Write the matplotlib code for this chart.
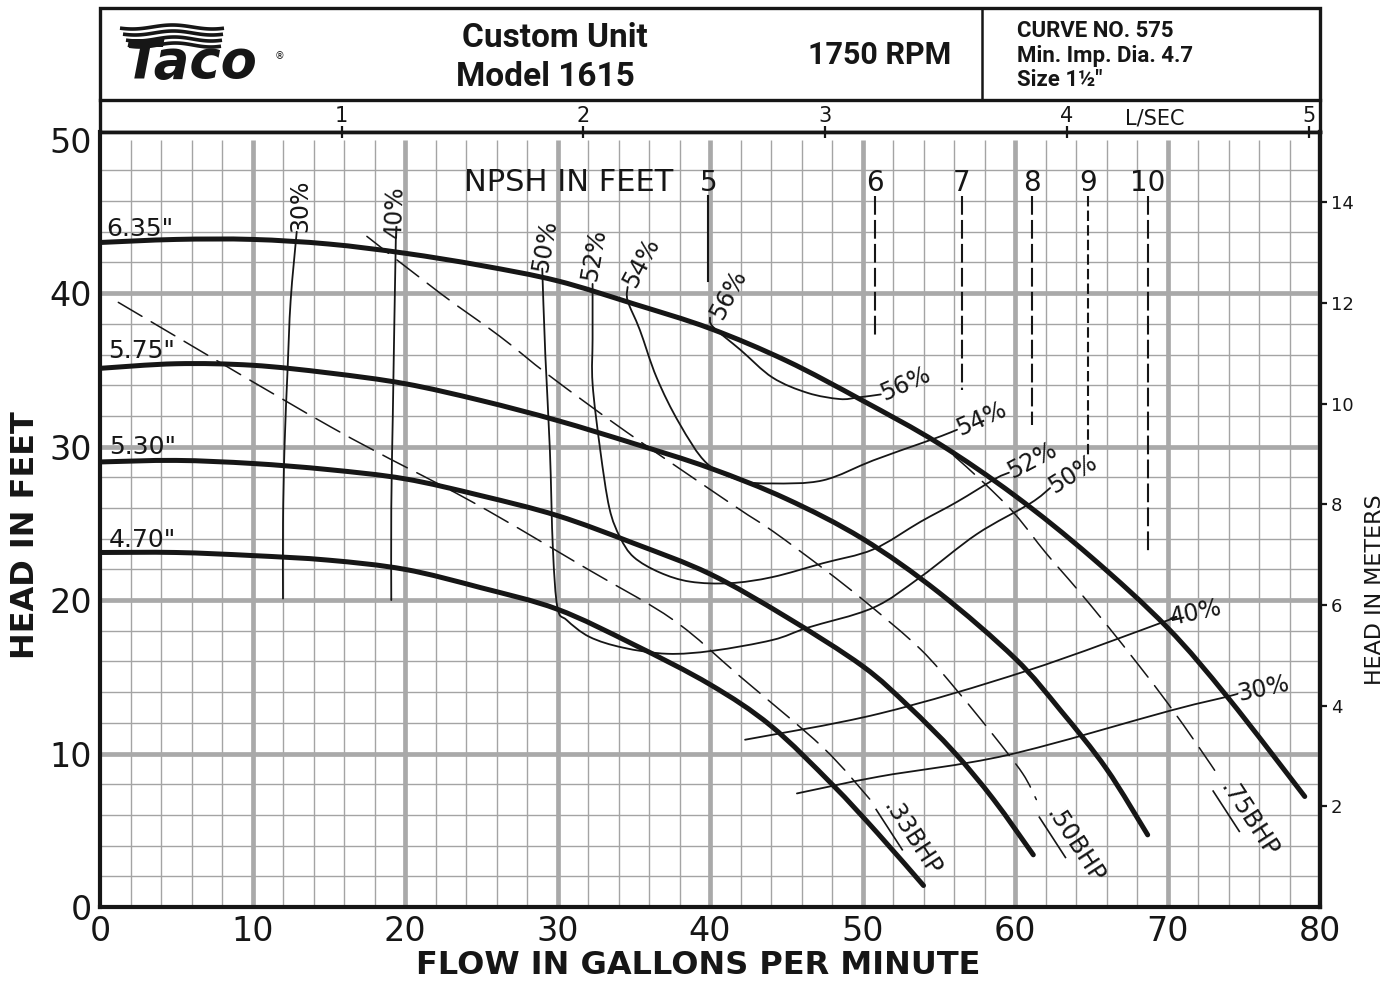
import numpy as np
import matplotlib
matplotlib.use('Agg')
import matplotlib.pyplot as plt
from matplotlib.patches import Rectangle, PathPatch
from matplotlib.path import Path

plt.rcParams['font.family'] = ['DejaVu Sans']
INK = '#161616'

# ---------------- data ----------------
imp_labels = ['6.35"', '5.75"', '5.30"', '4.70"']
q_635 = [0, 5, 10, 15, 20, 25, 30, 35, 40, 45, 50, 55, 60, 65, 70, 74, 79]
h_635 = [43.3, 43.5, 43.5, 43.2, 42.6, 41.8, 40.8, 39.3, 37.7, 35.6, 33.0, 30.2, 26.8, 22.8, 18.2, 13.6, 7.2]
q_575 = [0, 5, 10, 15, 20, 25, 30, 35, 40, 45, 50, 55, 60, 63, 66, 68.7]
h_575 = [35.1, 35.4, 35.3, 34.8, 34.1, 33.0, 31.7, 30.2, 28.6, 26.6, 24.0, 20.5, 16.2, 12.8, 9.0, 4.7]
q_530 = [0, 5, 10, 15, 20, 25, 30, 35, 40, 45, 50, 53, 56, 58.6, 61.2]
h_530 = [29.0, 29.1, 28.9, 28.5, 27.9, 26.8, 25.5, 23.7, 21.7, 18.9, 15.7, 13.1, 10.1, 7.0, 3.4]
q_470 = [0, 5, 10, 15, 20, 25, 30, 35, 40, 44, 48, 51, 54]
h_470 = [23.1, 23.1, 22.9, 22.6, 22.0, 20.8, 19.4, 17.1, 14.5, 11.8, 8.0, 4.8, 1.4]
imp_label_q = [0.4, 0.5, 0.6, 0.6]
imp_label_h = [44.2, 36.2, 30.0, 23.9]

# efficiency curves
e30l_q = [12.9, 12.5, 12.3, 12.1, 12.0, 12.0]
e30l_h = [44.0, 39.5, 35.0, 30.0, 25.0, 20.1]
e40l_q = [19.4, 19.3, 19.2, 19.1, 19.1]
e40l_h = [43.6, 38.0, 32.0, 26.0, 20.0]
e50_q = [29.0, 29.2, 29.5, 29.7, 30.0, 30.6, 32.1, 34.3, 37.2, 40.2, 44.1, 46.4, 50.7, 53.8, 57.5, 61.0, 62.3]
e50_h = [41.6, 36.0, 29.8, 23.3, 19.5, 18.7, 17.6, 16.9, 16.5, 16.7, 17.4, 18.2, 19.5, 21.5, 24.3, 26.3, 27.3]
e52_q = [32.3, 32.3, 32.3, 32.8, 33.4, 34.1, 35.0, 36.7, 38.7, 41.3, 44.1, 47.4, 50.7, 53.8, 56.2, 58.7, 59.6]
e52_h = [40.6, 37.0, 34.1, 29.8, 26.0, 24.1, 22.8, 21.8, 21.2, 21.1, 21.5, 22.4, 23.3, 25.1, 26.4, 27.9, 28.3]
e54_q = [34.6, 34.6, 35.4, 36.5, 38.0, 39.8, 42.0, 44.1, 47.4, 50.7, 53.8, 55.2, 56.2]
e54_h = [40.4, 39.5, 37.6, 34.5, 31.5, 28.9, 27.8, 27.6, 27.8, 29.1, 30.2, 30.7, 31.1]
e56_q = [40.0, 40.2, 42.0, 44.1, 46.4, 48.5, 49.7, 51.2]
e56_h = [38.4, 37.8, 36.3, 34.5, 33.5, 33.1, 33.2, 33.4]
e40r_q = [42.3, 51.1, 60.8, 69.8, 70.2]
e40r_h = [10.9, 12.6, 15.4, 18.6, 18.8]
e30r_q = [45.7, 51.1, 59.5, 70.2, 73.9, 74.6]
e30r_h = [7.4, 8.5, 9.9, 12.8, 13.7, 13.9]

eff_top_labels = ['30%', '40%', '50%', '52%', '54%', '56%']
eff_top_q = [13.1, 19.3, 29.2, 32.4, 35.5, 41.2]
eff_top_h = [45.7, 45.3, 43.1, 42.5, 42.0, 39.9]
eff_top_rot = [90, 88, 80, 80, 62, 62]

# brake horsepower lines
bhp_labels = ['.33BHP', '.50BHP', '.75BHP']
b33_q = [1.2, 15.1, 24.4, 32.0, 37.6, 42.0, 47.4, 50.5]
b33_h = [39.4, 31.3, 26.4, 22.0, 18.7, 15.0, 10.4, 7.0]
b50_q = [17.5, 22.3, 26.2, 29.5, 34.6, 41.5, 44.1, 47.5, 50.3, 53.8, 56.2, 58.5, 60.5, 61.4]
b50_h = [43.7, 40.0, 37.2, 34.6, 30.9, 26.2, 24.5, 22.0, 19.8, 16.8, 14.1, 11.3, 8.7, 7.0]
b75_q = [56.0, 58.0, 60.0, 62.0, 64.0, 66.0, 68.0, 70.0, 72.0, 73.3]
b75_h = [29.4, 27.6, 25.6, 23.1, 20.8, 18.4, 15.9, 13.3, 10.5, 8.6]
bhp_label_q = [53.2, 63.9, 75.3]
bhp_label_h = [4.5, 4.0, 5.7]

# NPSH
npsh_vals = ['5', '6', '7', '8', '9', '10']
npsh_q = [39.9, 50.8, 56.5, 61.1, 64.8, 68.7]
npsh_top = 46.3
npsh_bottom = [40.8, 37.1, 33.7, 31.4, 29.4, 23.1]
npsh_label_h = 47.2

# axes ticks
x_ticks = [0, 10, 20, 30, 40, 50, 60, 70, 80]
y_ticks = [0, 10, 20, 30, 40, 50]
lsec_ticks = [1, 2, 3, 4, 5]
meter_ticks = [2, 4, 6, 8, 10, 12, 14]


def smooth_path(q, h):
    """Smooth (Catmull-Rom) path passing through the given points."""
    P = np.column_stack([q, h]).astype(float)
    n = len(P)
    verts = [P[0]]
    codes = [Path.MOVETO]
    for i in range(n - 1):
        p0 = P[i - 1] if i > 0 else P[i]
        p1 = P[i]
        p2 = P[i + 1]
        p3 = P[i + 2] if i + 2 < n else P[i + 1]
        verts += [p1 + (p2 - p0) / 6.0, p2 - (p3 - p1) / 6.0, p2]
        codes += [Path.CURVE4] * 3
    return Path(verts, codes)


def draw_curve(ax, q, h, lw, ls='-', z=4):
    patch = PathPatch(smooth_path(q, h), fill=False, ec=INK, lw=lw, linestyle=ls,
                      capstyle='round', joinstyle='round', zorder=z)
    ax.add_patch(patch)


# ---------------- figure ----------------
W, H = 1392, 982
fig = plt.figure(figsize=(W / 100, H / 100), dpi=100)
fig.patch.set_facecolor('white')

# header overlay in pixel coordinates
hd = fig.add_axes([0, 0, 1, 1], zorder=-5)
hd.set_xlim(0, W)
hd.set_ylim(H, 0)
hd.axis('off')
hd.add_patch(Rectangle((100, 8), 1220, 124, fill=False, lw=2.4, ec=INK))
hd.plot([100, 1320], [100, 100], lw=2.4, color=INK)
hd.plot([982, 982], [8, 100], lw=1.8, color=INK)
hd.text(555, 38, 'Custom Unit', ha='center', va='center', fontsize=24,
        fontweight='bold', family=['Roboto', 'DejaVu Sans'], color=INK)
hd.text(545, 77, 'Model 1615', ha='center', va='center', fontsize=24,
        fontweight='bold', family=['Roboto', 'DejaVu Sans'], color=INK)
hd.text(880, 55, '1750 RPM', ha='center', va='center', fontsize=22,
        fontweight='bold', family=['Roboto', 'DejaVu Sans'], color=INK)
for yy, s in zip([31, 56, 80], ['CURVE NO. 575', 'Min. Imp. Dia. 4.7', 'Size 1½"']):
    hd.text(1017, yy, s, ha='left', va='center', fontsize=16, fontweight='bold',
            family=['Roboto', 'DejaVu Sans'], color=INK)
# Taco logo
hd.text(124, 63, 'Taco', ha='left', va='center', fontsize=38, fontweight='heavy',
        style='italic', color=INK)
tt = np.linspace(0, 1, 60)
for i, y0 in enumerate([27, 33, 39, 45]):
    xs = 120 + i * 3 + tt * (104 - i * 4)
    ys = y0 + 2.0 * np.sin(2 * np.pi * tt * 1.3 + 0.6)
    hd.plot(xs, ys, color=INK, lw=2.6, solid_capstyle='butt')
hd.text(280, 56, '®', ha='center', va='center', fontsize=7, color=INK)

# main axes
ax = fig.add_axes([100 / W, (H - 907) / H, 1220 / W, 775 / H])
ax.set_xlim(0, 80)
ax.set_ylim(0, 50.5)
ax.set_facecolor('white')

minor_x = [v for v in range(2, 80, 2) if v % 10]
major_x = list(range(10, 80, 10))
minor_y = [v for v in range(2, 50, 2) if v % 10]
major_y = list(range(10, 50, 10))
ax.vlines(minor_x, 0, 50, colors='#a4a4a4', lw=1.0, zorder=1)
ax.hlines(minor_y, 0, 80, colors='#a4a4a4', lw=1.0, zorder=1)
ax.vlines(major_x, 0, 50, colors='#a9a9a9', lw=3.4, zorder=1.1)
ax.hlines(major_y, 0, 80, colors='#a9a9a9', lw=3.4, zorder=1.1)

# impeller curves
for q, h in [(q_635, h_635), (q_575, h_575), (q_530, h_530), (q_470, h_470)]:
    draw_curve(ax, q, h, lw=3.6, z=5)
for s, q, h in zip(imp_labels, imp_label_q, imp_label_h):
    ax.text(q, h, s, ha='left', va='center', fontsize=18, color=INK, zorder=6)

# efficiency curves
eff_lines = [(e30l_q, e30l_h), (e40l_q, e40l_h), (e50_q, e50_h), (e52_q, e52_h),
             (e54_q, e54_h), (e56_q, e56_h), (e40r_q, e40r_h), (e30r_q, e30r_h)]
for q, h in eff_lines:
    draw_curve(ax, q, h, lw=1.3, z=4)
for s, q, h, r in zip(eff_top_labels, eff_top_q, eff_top_h, eff_top_rot):
    ax.text(q, h, s, ha='center', va='center', rotation=r, fontsize=17, color=INK, zorder=6)
right_labels = [('56%', e56_q, e56_h, 24), ('54%', e54_q, e54_h, 24), ('52%', e52_q, e52_h, 28),
                ('50%', e50_q, e50_h, 32), ('40%', e40r_q, e40r_h, 12), ('30%', e30r_q, e30r_h, 12)]
for s, q, h, r in right_labels:
    ax.text(q[-1], h[-1], s, ha='left', va='center', rotation=r, rotation_mode='anchor',
            fontsize=17, color=INK, zorder=6)

# BHP lines
for q, h in [(b33_q, b33_h), (b50_q, b50_h), (b75_q, b75_h)]:
    draw_curve(ax, q, h, lw=1.1, ls=(0, (18, 7)), z=3)
inv = ax.transData.inverted()
for s, q, h in zip(bhp_labels, bhp_label_q, bhp_label_h):
    ang = -57
    ax.text(q, h, s, ha='center', va='center', rotation=ang, rotation_mode='anchor',
            fontsize=17, color=INK, zorder=6)
    c = ax.transData.transform((q, h))
    d = np.array([np.cos(np.radians(ang)), np.sin(np.radians(ang))])
    nrm = np.array([d[1], -d[0]])
    p0 = inv.transform(c + d * -43 + nrm * 14)
    p1 = inv.transform(c + d * 5 + nrm * 14)
    ax.plot([p0[0], p1[0]], [p0[1], p1[1]], color=INK, lw=1.2, zorder=6, clip_on=False)

# NPSH
ax.text(23.9, npsh_label_h, 'NPSH IN FEET', ha='left', va='center', fontsize=22, color=INK, zorder=6)
for s, q, b in zip(npsh_vals, npsh_q, npsh_bottom):
    ax.text(q, npsh_label_h, s, ha='center', va='center', fontsize=20, color=INK, zorder=6)
    if s == '5':
        ls = '-'
    elif s == '9':
        ls = (0, (5, 2))
    else:
        ls = (0, (9, 2.5))
    ax.plot([q, q], [npsh_top, b], color=INK, lw=1.5, linestyle=ls, zorder=4)

# ticks and labels
ax.set_xticks(x_ticks)
ax.set_yticks(y_ticks)
ax.tick_params(axis='both', length=0, labelsize=24, colors=INK)
ax.tick_params(axis='x', pad=6)
ax.tick_params(axis='y', pad=6)
for sp in ax.spines.values():
    sp.set_linewidth(3.0)
    sp.set_color(INK)
ax.spines['top'].set_linewidth(2.4)

ax.set_xlabel('FLOW IN GALLONS PER MINUTE', fontsize=23, fontweight='bold', color=INK)
ax.xaxis.set_label_coords(0.49, -0.056)
ax.set_ylabel('HEAD IN FEET', fontsize=23, fontweight='bold', color=INK)
ax.yaxis.set_label_coords(-0.048, 0.48)

# L/SEC top scale
sx = ax.secondary_xaxis('top', functions=(lambda q: q * 0.0630902, lambda l: l / 0.0630902))
sx.set_xticks(lsec_ticks)
sx.tick_params(direction='inout', length=8, width=1.6, labelsize=15, pad=0, colors=INK)
sx.spines['top'].set_linewidth(2.4)
ax.text(0.8648, 1.0168, 'L/SEC', transform=ax.transAxes, ha='center', va='center',
        fontsize=15, color=INK)

# meters right scale
sy = ax.secondary_yaxis('right', functions=(lambda f: f * 0.3048, lambda m: m / 0.3048))
sy.set_yticks(meter_ticks)
sy.tick_params(direction='out', length=5, width=1.6, labelsize=13, pad=3, colors=INK)
sy.spines['right'].set_linewidth(3.0)
ax.text(1.0451, 0.41, 'HEAD IN METERS', transform=ax.transAxes, rotation=90,
        ha='center', va='center', fontsize=16, color=INK)

fig.savefig('out.png', dpi=100, facecolor='white')
